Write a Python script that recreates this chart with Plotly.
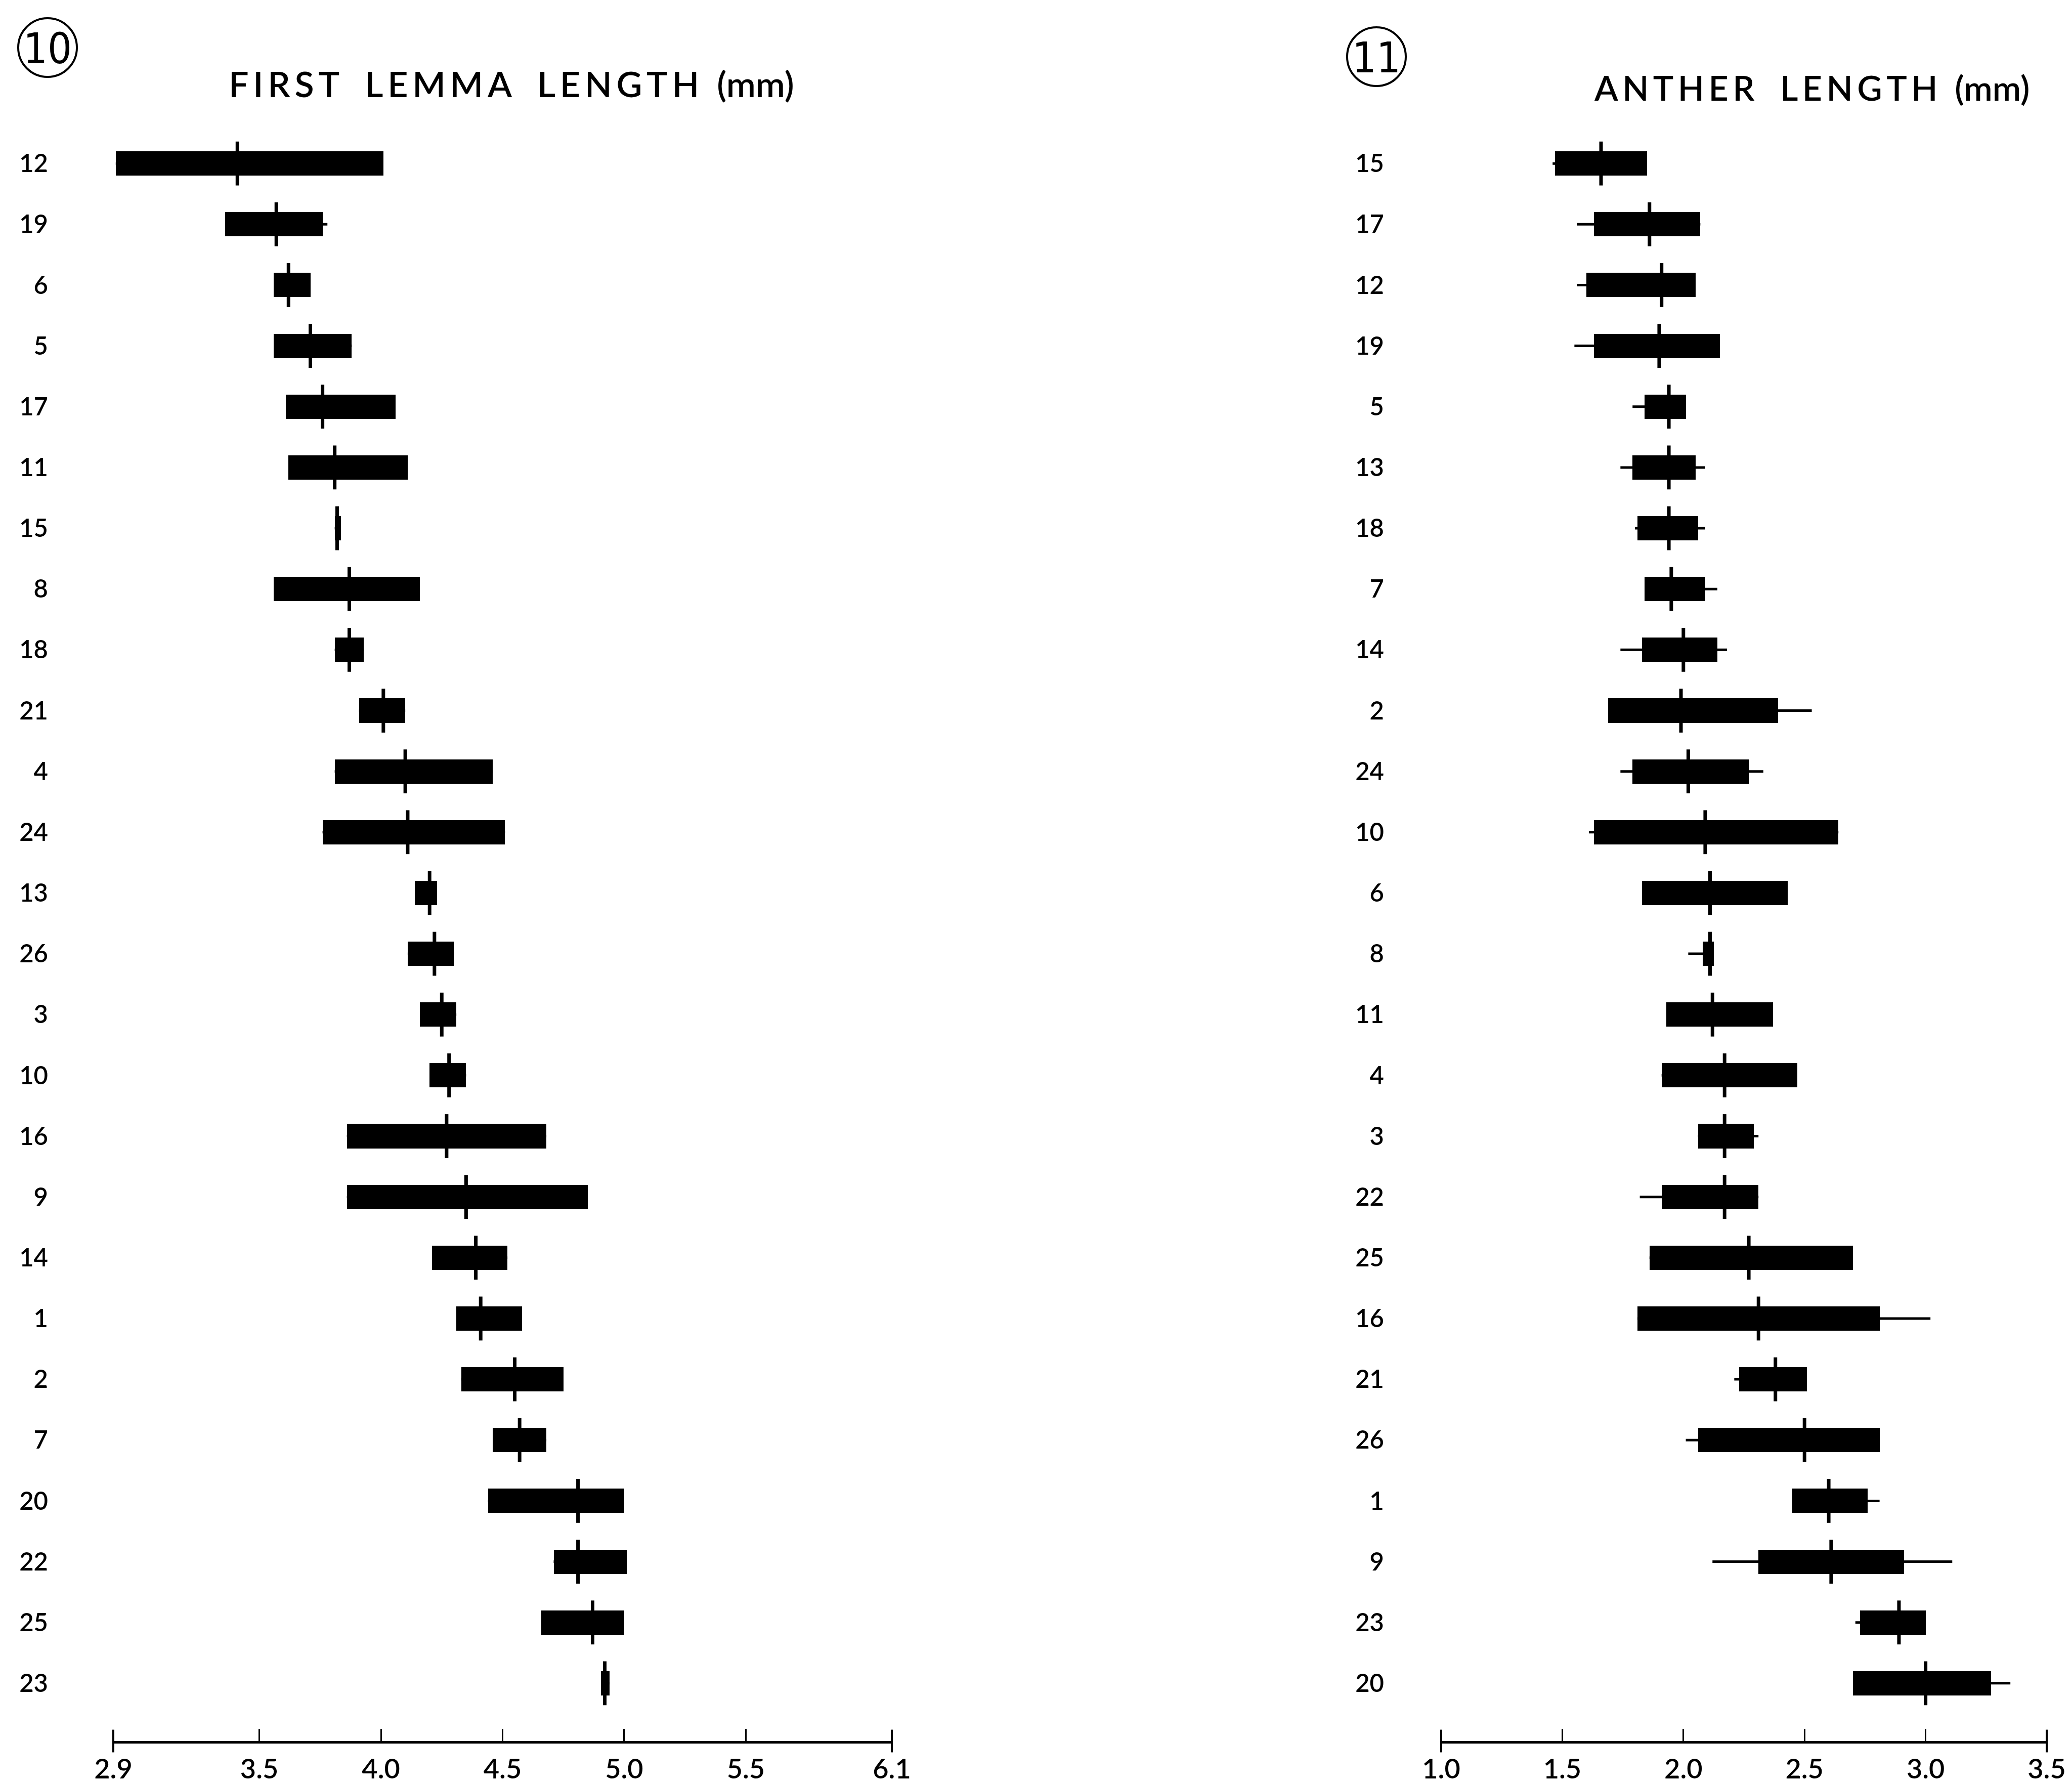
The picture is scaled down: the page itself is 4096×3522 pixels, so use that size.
import plotly.graph_objects as go

W, H = 4096, 3522

# ---------------- data ----------------
left_rows = ['12','19','6','5','17','11','15','8','18','21','4','24','13','26','3','10','16','9','14','1','2','7','20','22','25','23']
left_lo   = [2.91,3.36,3.56,3.56,3.61,3.62,3.81,3.56,3.81,3.91,3.81,3.76,4.14,4.11,4.16,4.20,3.86,3.86,4.21,4.31,4.33,4.46,4.44,4.71,4.66,4.905]
left_hi   = [4.01,3.76,3.71,3.88,4.06,4.11,3.835,4.16,3.93,4.10,4.46,4.51,4.23,4.30,4.31,4.35,4.68,4.85,4.52,4.58,4.75,4.68,5.00,5.01,5.00,4.94]
left_mean = [3.41,3.57,3.62,3.71,3.76,3.81,3.82,3.87,3.87,4.01,4.10,4.11,4.20,4.22,4.25,4.28,4.27,4.35,4.39,4.41,4.55,4.57,4.81,4.81,4.87,4.92]
left_min  = [2.91,3.36,3.56,3.56,3.61,3.62,3.81,3.56,3.81,3.91,3.81,3.76,4.14,4.11,4.16,4.20,3.86,3.86,4.21,4.31,4.33,4.46,4.44,4.71,4.66,4.905]
left_max  = [4.01,3.78,3.71,3.88,4.06,4.11,3.835,4.16,3.93,4.10,4.46,4.51,4.23,4.30,4.31,4.35,4.68,4.85,4.52,4.58,4.75,4.68,5.00,5.01,5.00,4.94]

right_rows = ['15','17','12','19','5','13','18','7','14','2','24','10','6','8','11','4','3','22','25','16','21','26','1','9','23','20']
right_lo   = [1.47,1.63,1.60,1.63,1.84,1.79,1.81,1.84,1.83,1.69,1.79,1.63,1.83,2.08,1.93,1.91,2.06,1.91,1.86,1.81,2.23,2.06,2.45,2.31,2.73,2.70]
right_hi   = [1.85,2.07,2.05,2.15,2.01,2.05,2.06,2.09,2.14,2.39,2.27,2.64,2.43,2.125,2.37,2.47,2.29,2.31,2.70,2.81,2.51,2.81,2.76,2.91,3.00,3.27]
right_mean = [1.66,1.86,1.91,1.90,1.94,1.94,1.94,1.95,2.00,1.99,2.02,2.09,2.11,2.11,2.12,2.17,2.17,2.17,2.27,2.31,2.38,2.50,2.60,2.61,2.89,3.00]
right_min  = [1.46,1.56,1.56,1.55,1.79,1.74,1.80,1.84,1.74,1.69,1.74,1.61,1.83,2.02,1.93,1.91,2.06,1.82,1.86,1.81,2.21,2.01,2.45,2.12,2.71,2.70]
right_max  = [1.85,2.07,2.05,2.15,2.01,2.09,2.09,2.14,2.18,2.53,2.33,2.64,2.43,2.125,2.37,2.47,2.31,2.31,2.70,3.02,2.51,2.81,2.81,3.11,3.00,3.35]

left_ticks = [2.9, 3.5, 4.0, 4.5, 5.0, 5.5, 6.1]
left_ticktext = ['2.9', '3.5', '4.0', '4.5', '5.0', '5.5', '6.1']
right_ticks = [1.0, 1.5, 2.0, 2.5, 3.0, 3.5]
right_ticktext = ['1.0', '1.5', '2.0', '2.5', '3.0', '3.5']

TS = '\u2009'
def spaced(words):
    return '   '.join(TS.join(w) for w in words)

left_title = spaced(['FIRST', 'LEMMA', 'LENGTH']) + '  (mm)'
right_title = spaced(['ANTHER', 'LENGTH']) + '  (mm)'

# ---------------- layout helpers ----------------
def px(x):
    return x / W

def py(y):
    return 1 - y / H

AX_Y = 3433          # pixel row of x-axis line
TOP_Y = 195          # pixel row of y = -1
Y_RANGE = [25.95, -1]

fig = go.Figure()

def add_panel(rows, lo, hi, mean, mn, mx, xa, ya, ticks):
    idx = list(range(len(rows)))
    lx, ly = [], []
    for i in idx:
        lx += [mn[i], mx[i], None]
        ly += [i, i, None]
    fig.add_trace(go.Scatter(x=lx, y=ly, mode='lines', line=dict(color='black', width=5),
                             xaxis=xa, yaxis=ya, showlegend=False, hoverinfo='skip'))
    fig.add_trace(go.Bar(x=[h - l for l, h in zip(lo, hi)], base=lo, y=idx, orientation='h',
                         width=0.40, marker=dict(color='black', line=dict(width=0)),
                         xaxis=xa, yaxis=ya, showlegend=False))
    fig.add_trace(go.Scatter(x=mean, y=idx, mode='markers',
                             marker=dict(symbol='line-ns', size=62, color='black',
                                         line=dict(color='black', width=7)),
                             xaxis=xa, yaxis=ya, showlegend=False, cliponaxis=False))
    fig.add_trace(go.Scatter(x=[ticks[0], ticks[-1]], y=[Y_RANGE[0], Y_RANGE[0]], mode='markers',
                             marker=dict(symbol='line-ns', size=32, color='black',
                                         line=dict(color='black', width=4)),
                             xaxis=xa, yaxis=ya, showlegend=False, cliponaxis=False))

add_panel(left_rows, left_lo, left_hi, left_mean, left_min, left_max, 'x', 'y', left_ticks)
add_panel(right_rows, right_lo, right_hi, right_mean, right_min, right_max, 'x2', 'y2', right_ticks)

ydom = [py(AX_Y), py(TOP_Y)]
FONT = 'Lato, Noto Sans, sans-serif'
tickfont = dict(family=FONT, size=54, color='black', weight=600)
rowfont = dict(family=FONT, size=49, color='black', weight=600)

common_x = dict(showgrid=False, zeroline=False, showline=True, linecolor='black', linewidth=5,
                ticks='inside', ticklen=24, tickwidth=3, tickcolor='black', tickfont=tickfont,
                automargin=False, ticklabelstandoff=4, fixedrange=True)
common_y = dict(showgrid=False, zeroline=False, showline=False, ticks='', range=Y_RANGE,
                domain=ydom, automargin=False, tickfont=rowfont, fixedrange=True)

fig.update_layout(
    width=W, height=H,
    margin=dict(l=0, r=0, t=0, b=0),
    paper_bgcolor='white', plot_bgcolor='white',
    bargap=0, barmode='overlay',
    xaxis=dict(domain=[px(216), px(1755)], range=[left_ticks[0], left_ticks[-1]],
               tickvals=left_ticks, ticktext=left_ticktext, anchor='y', **common_x),
    yaxis=dict(anchor='x', tickvals=list(range(len(left_rows))), ticktext=left_rows,
               ticklabelstandoff=128, **common_y),
    xaxis2=dict(domain=[px(2841), px(4038)], range=[right_ticks[0], right_ticks[-1]],
                tickvals=right_ticks, ticktext=right_ticktext, anchor='y2', **common_x),
    yaxis2=dict(anchor='x2', tickvals=list(range(len(right_rows))), ticktext=right_rows,
                ticklabelstandoff=112, **common_y),
    showlegend=False,
)

for cx, cy, label in [(86, 86, '10'), (2713, 104, '11')]:
    r = 58
    fig.add_shape(type='circle', xref='paper', yref='paper',
                  x0=px(cx - r), x1=px(cx + r), y0=py(cy + r), y1=py(cy - r),
                  line=dict(color='black', width=4))
    fig.add_annotation(x=px(cx), y=py(cy + 2), xref='paper', yref='paper', text=label,
                       showarrow=False, xanchor='center', yanchor='middle',
                       font=dict(family='Liberation Sans Narrow, DejaVu Sans Condensed, Lato, sans-serif',
                                 size=84, color='black'))

fig.add_annotation(x=px(1003), y=py(157), xref='paper', yref='paper', text=left_title,
                   showarrow=False, xanchor='center', yanchor='middle',
                   font=dict(family=FONT, size=70, color='black', weight=600))
fig.add_annotation(x=px(3573), y=py(165), xref='paper', yref='paper', text=right_title,
                   showarrow=False, xanchor='center', yanchor='middle',
                   font=dict(family=FONT, size=68, color='black', weight=600))

fig.write_html('out.html')
